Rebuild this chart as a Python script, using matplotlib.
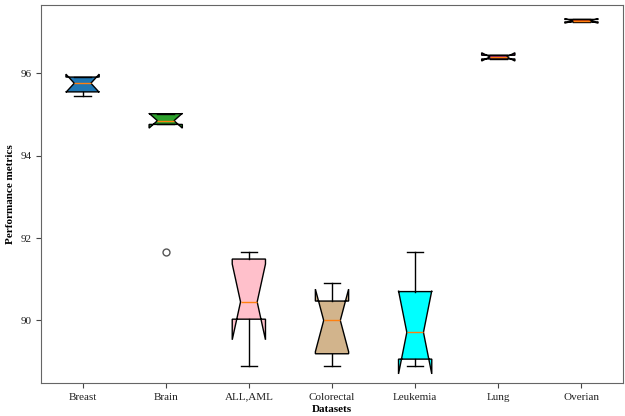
import matplotlib

matplotlib.use("Agg")
import matplotlib.pyplot as plt

labels = ["Breast", "Brain", "ALL,AML", "Colorectal", "Leukemia", "Lung", "Overian"]
med = [95.76, 94.85, 90.45, 90.00, 89.71, 96.40, 97.27]
q1 = [95.55, 94.76, 90.03, 89.19, 89.06, 96.35, 97.25]
q3 = [95.91, 95.02, 91.49, 90.47, 90.70, 96.44, 97.31]
whislo = [95.46, 94.76, 88.89, 88.90, 88.90, 96.35, 97.25]
whishi = [95.91, 95.02, 91.67, 90.92, 91.67, 96.44, 97.31]
cilo = [95.54, 94.67, 89.53, 89.24, 88.70, 96.30, 97.22]
cihi = [95.98, 95.03, 91.37, 90.76, 90.72, 96.50, 97.33]
fliers = [[], [91.67], [], [], [], [], []]
colors = ["#1f77b4", "#2ca02c", "pink", "tan", "cyan", "#8e1f86", "#e0440e"]

plt.rcParams["font.family"] = ["Liberation Serif", "DejaVu Serif"]

stats = []
for i, name in enumerate(labels):
    stats.append(dict(label=name, med=med[i], q1=q1[i], q3=q3[i],
                      whislo=whislo[i], whishi=whishi[i],
                      cilo=cilo[i], cihi=cihi[i], fliers=fliers[i]))

fig = plt.figure(figsize=(6.25, 4.16), dpi=100)
ax = fig.add_axes([41 / 625, 1 - 383 / 416, 582 / 625, 378 / 416])

bp = ax.bxp(stats, shownotches=True, patch_artist=True, widths=0.4,
            boxprops=dict(edgecolor="black", linewidth=1.0),
            whiskerprops=dict(color="black", linewidth=1.0),
            capprops=dict(color="black", linewidth=1.0),
            medianprops=dict(color="#ff7f0e", linewidth=1.0),
            flierprops=dict(marker="o", markerfacecolor="none",
                            markeredgecolor="#555555", markersize=5))
for patch, c in zip(bp["boxes"], colors):
    patch.set_facecolor(c)

ax.set_xlim(0.5, 7.5)
ax.set_ylim(88.48, 97.66)
ax.set_yticks([90, 92, 94, 96])
for sp in ax.spines.values():
    sp.set_color("#666666")
ax.tick_params(colors="#444444", labelsize=8, labelcolor="#222222")
ax.set_xlabel("Datasets", fontsize=8, fontweight="bold", labelpad=2)
ax.set_ylabel("Performance metrics", fontsize=8, fontweight="bold")

fig.savefig("out.png", dpi=100)
